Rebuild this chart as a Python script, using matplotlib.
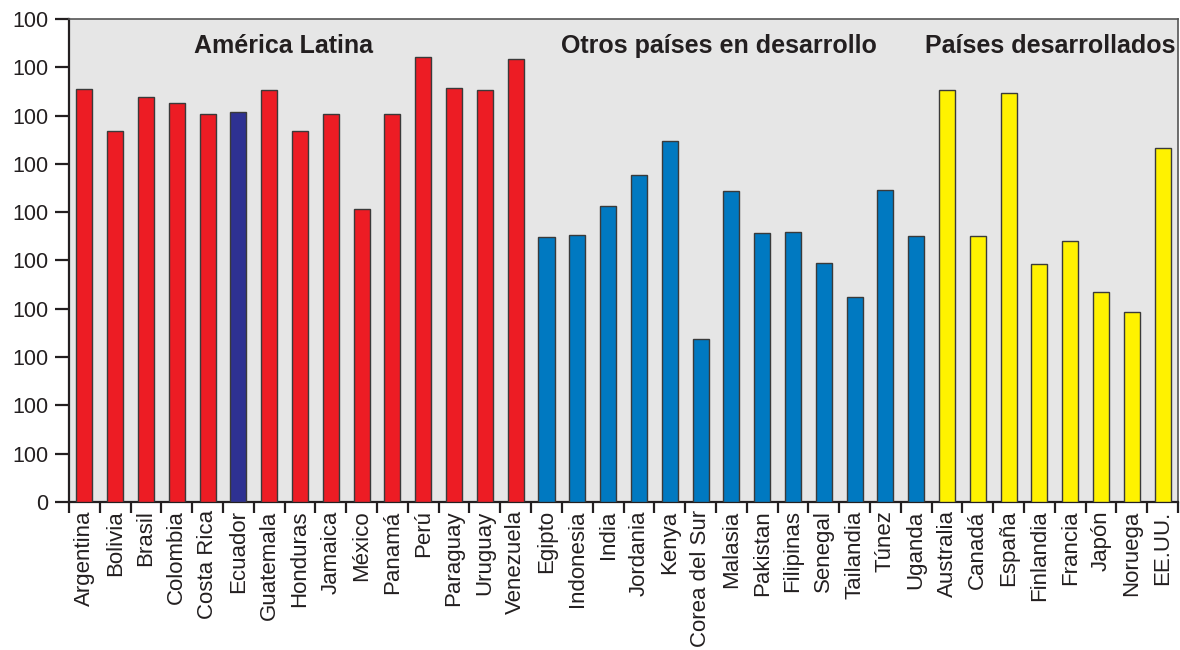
import matplotlib
matplotlib.use("Agg")
import matplotlib.pyplot as plt
import numpy as np

# datos (escala 0-10, etiquetas del eje como en el original)
paises_al = ['Argentina', 'Bolivia', 'Brasil', 'Colombia', 'Costa Rica', 'Ecuador',
             'Guatemala', 'Honduras', 'Jamaica', 'México', 'Panamá', 'Perú',
             'Paraguay', 'Uruguay', 'Venezuela']
valores_al = [8.56, 7.68, 8.38, 8.27, 8.03, 8.07, 8.53, 7.68, 8.03, 6.06, 8.03,
              9.21, 8.57, 8.53, 9.17]

paises_od = ['Egipto', 'Indonesia', 'India', 'Jordania', 'Kenya', 'Corea del Sur',
             'Malasia', 'Pakistan', 'Filipinas', 'Senegal', 'Tailandia', 'Túnez',
             'Uganda']
valores_od = [5.48, 5.52, 6.12, 6.76, 7.47, 3.38, 6.43, 5.56, 5.58, 4.94, 4.25,
              6.45, 5.50]

paises_d = ['Australia', 'Canadá', 'España', 'Finlandia', 'Francia', 'Japón',
            'Noruega', 'EE.UU.']
valores_d = [8.53, 5.50, 8.46, 4.92, 5.41, 4.34, 3.94, 7.32]

etiquetas_y = ['0'] + ['100'] * 10

# -- colores --
c_rojo = '#ED1C24'
c_ecuador = '#2E3192'
c_azul = '#0079C1'
c_amarillo = '#FFF200'
c_fondo = '#E6E6E6'
c_texto = '#231F20'

paises = paises_al + paises_od + paises_d
valores = valores_al + valores_od + valores_d
colores = ([c_rojo] * len(paises_al) + [c_azul] * len(paises_od)
           + [c_amarillo] * len(paises_d))
colores[paises.index('Ecuador')] = c_ecuador

plt.rcParams['font.family'] = ['Liberation Sans', 'DejaVu Sans']

fig = plt.figure(figsize=(11.8, 6.5), dpi=100, facecolor='white')
ax = fig.add_axes([0.0585, 0.2277, 0.9398, 0.7431])
ax.set_facecolor(c_fondo)

x = np.arange(len(paises))
ax.bar(x, valores, width=0.52, color=colores, edgecolor='#3a3a3a',
       linewidth=1.0, zorder=3)

ax.set_xlim(-0.5, len(paises) - 0.5)
ax.set_ylim(0, 10)

ax.set_yticks(np.arange(0, 11))
ax.set_yticklabels(etiquetas_y, fontsize=15.5, color=c_texto)
ax.tick_params(axis='y', direction='out', length=10, width=1.6, color=c_texto, pad=5)

# ticks en los limites entre barras, etiquetas centradas en cada barra
ax.set_xticks(np.arange(len(paises) + 1) - 0.5)
ax.set_xticklabels([])
ax.set_xticks(x, minor=True)
ax.set_xticklabels(paises, minor=True, rotation=90, fontsize=16, color=c_texto)
ax.tick_params(axis='x', which='major', direction='out', length=8, width=1.6,
               color=c_texto)
ax.tick_params(axis='x', which='minor', length=0, pad=6)

for lado in ['left', 'bottom']:
    ax.spines[lado].set_color(c_texto)
    ax.spines[lado].set_linewidth(1.6)
for lado in ['top', 'right']:
    ax.spines[lado].set_color('#555555')
    ax.spines[lado].set_linewidth(1.2)

# -- titulos de grupo --
ax.text(6.45, 9.44, 'América Latina', ha='center', va='center', fontsize=18,
        fontweight='bold', color=c_texto, zorder=5)
ax.text(20.6, 9.44, 'Otros países en desarrollo', ha='center', va='center',
        fontsize=18, fontweight='bold', color=c_texto, zorder=5)
ax.text(31.35, 9.44, 'Países desarrollados', ha='center', va='center',
        fontsize=18, fontweight='bold', color=c_texto, zorder=5)

fig.savefig('out.png', dpi=100, facecolor=fig.get_facecolor())
plt.close(fig)
